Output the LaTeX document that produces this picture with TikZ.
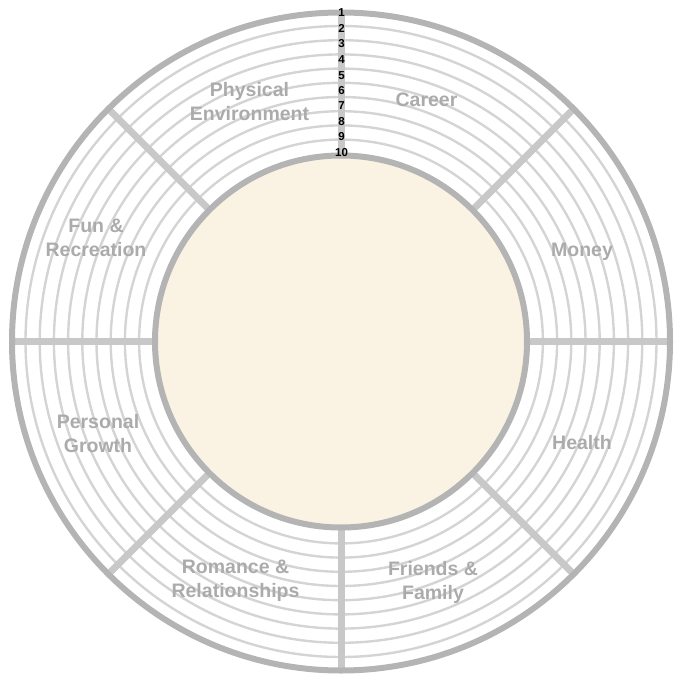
\documentclass[tikz,border=0pt]{standalone}
\usepackage{fontspec}
\setmainfont{Liberation Sans}
\usetikzlibrary{calc}
\definecolor{ringgray}{HTML}{B4B4B4}
\definecolor{spokegray}{HTML}{C8C8C8}
\definecolor{thingray}{HTML}{D4D4D4}
\definecolor{labelgray}{HTML}{ABABAB}
\definecolor{cream}{HTML}{FAF3E3}
\tikzset{
  ring/.style={draw=ringgray, line width=6pt},
  thinring/.style={draw=thingray, line width=2.4pt},
  spoke/.style={draw=spokegray, line width=7pt},
  arealabel/.style={text=labelgray, font=\bfseries\fontsize{19.5}{24}\selectfont, align=center, inner sep=0pt},
  numlabel/.style={text=black, font=\bfseries\fontsize{11.5}{11.5}\selectfont, inner sep=0pt}
}
\begin{document}
\begin{tikzpicture}[x=1pt,y=-1pt]
\useasboundingbox (0,0) rectangle (673,674);
\coordinate (c) at (341,341.5);
% inner fill
\fill[cream] (c) circle (186);
% thin rings
\foreach \k in {0,...,8}{
  \draw[thinring] (c) circle ({315.5-14.2*\k});
}
% spokes
\foreach \a in {0,45,...,315}{
  \draw[spoke] ($(c)+(\a:186)$) -- ($(c)+(\a:329)$);
}
% main rings
\draw[ring] (c) circle (329);
\draw[ring] (c) circle (186);
% scale numbers
\foreach \n/\y in {1/13,2/28.5,3/44,4/60,5/75.5,6/91,7/106,8/121.5,9/137,10/152.5}{
  \node[numlabel] (n\n) at (341.5,\y) {\n};
}
% area labels
\node[arealabel] (phys) at (249.5,102) {Physical\\Environment};
\node[arealabel] (career) at (426.5,100) {Career};
\node[arealabel] (money) at (582,252) {Money};
\node[arealabel] (health) at (582,443) {Health};
\node[arealabel] (friends) at (433,582) {Friends \&\\Family};
\node[arealabel] (romance) at (235.5,580.5) {Romance \&\\Relationships};
\node[arealabel] (growth) at (98,434) {Personal\\Growth};
\node[arealabel] (fun) at (96,237.5) {Fun \&\\Recreation};
\end{tikzpicture}
\end{document}
